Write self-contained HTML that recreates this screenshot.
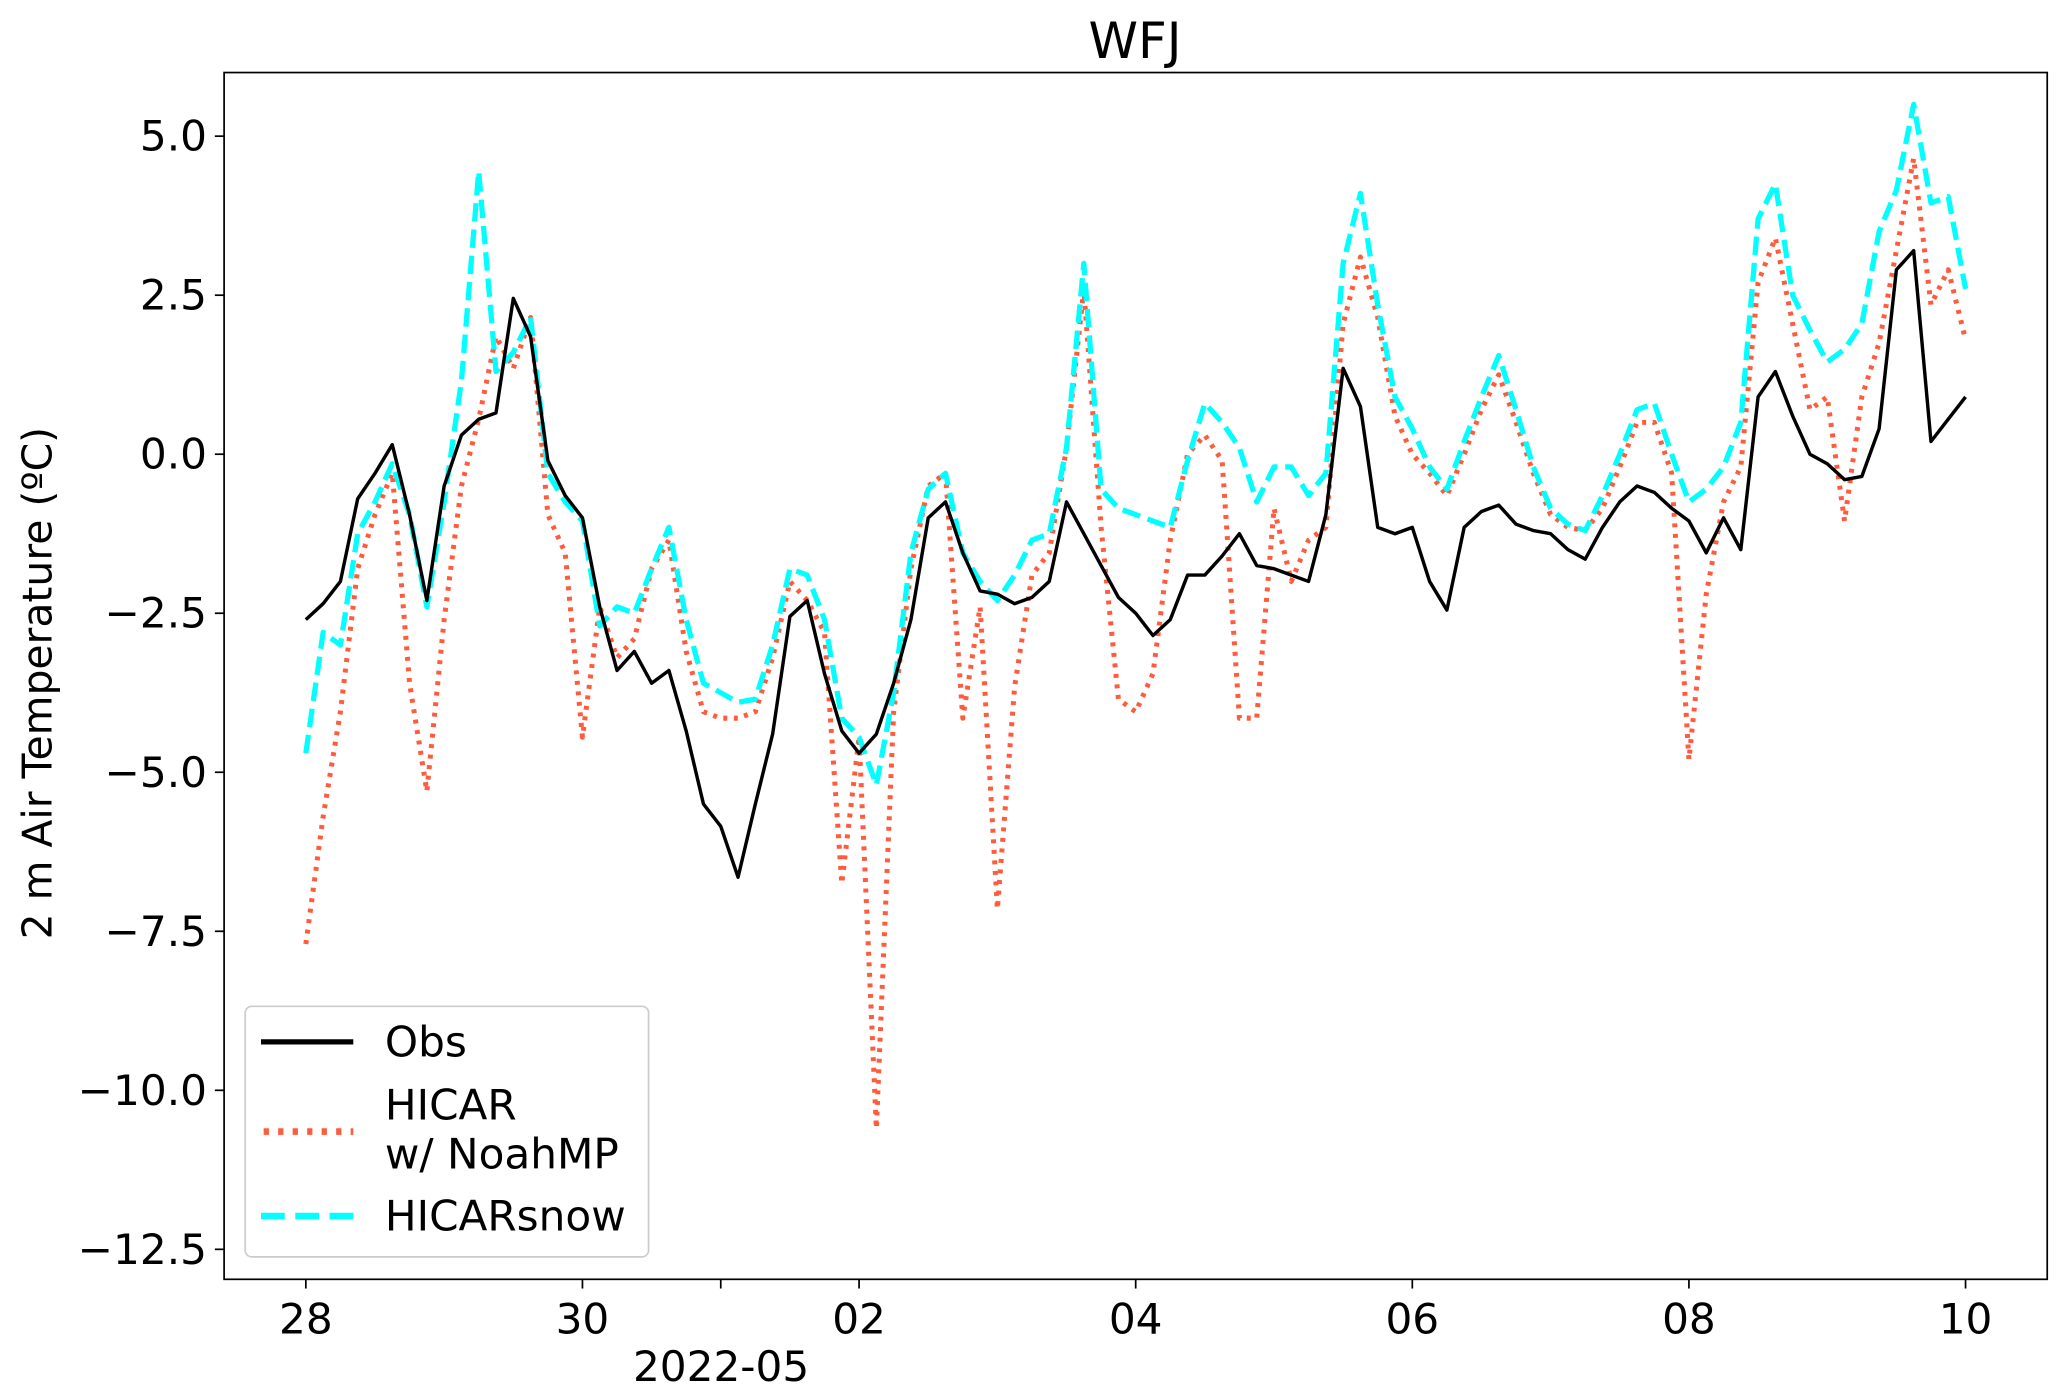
<!DOCTYPE html>
<html><head><meta charset="utf-8"><style>
html,body{margin:0;padding:0;background:#fff}
svg{display:block}
text{font-family:"DejaVu Sans","Liberation Sans",sans-serif;fill:#000}
</style></head><body>
<svg id="chart" width="2067" height="1398" viewBox="0 0 1568 1060" preserveAspectRatio="none" xmlns="http://www.w3.org/2000/svg">
<rect x="0" y="0" width="1568" height="1060" fill="#fff"/>
<text x="861" y="44" font-size="38" text-anchor="middle">WFJ</text>
<g id="marks"></g>
<rect x="170" y="55" width="1383" height="915" fill="none" stroke="#000" stroke-width="1.3"/>
<g id="axes"></g>
<text transform="translate(39,518) rotate(-90)" font-size="31" text-anchor="middle">2 m Air Temperature (ºC)</text>
<text x="547" y="1047" font-size="32" text-anchor="middle">2022-05</text>
<g>
<rect x="186" y="763" width="306" height="190" rx="5" fill="#fff" fill-opacity="0.8" stroke="#ccc" stroke-width="1.3"/>
<line x1="198" y1="790" x2="268" y2="790" stroke="#000" stroke-width="4"/>
<text x="292" y="801" font-size="32">Obs</text>
<line x1="200" y1="858" x2="268" y2="858" stroke="#ff5b3c" stroke-width="5" stroke-dasharray="4,7"/>
<text x="292" y="849" font-size="32">HICAR</text>
<text x="292" y="886" font-size="32">w/ NoahMP</text>
<line x1="198" y1="922" x2="268" y2="922" stroke="#00ffff" stroke-width="5" stroke-dasharray="18,8"/>
<text x="292" y="933" font-size="32">HICARsnow</text>
</g>
</svg>
<script>
const stepDays = 0.125;
const obs = [-2.6,-2.35,-2.0,-0.7,-0.3,0.15,-0.95,-2.3,-0.5,0.3,0.55,0.65,2.45,1.85,-0.1,-0.65,-1.0,-2.4,-3.4,-3.1,-3.6,-3.4,-4.35,-5.5,-5.85,-6.65,-5.5,-4.4,-2.55,-2.3,-3.45,-4.35,-4.7,-4.4,-3.6,-2.6,-1.0,-0.75,-1.55,-2.15,-2.2,-2.35,-2.25,-2.0,-0.75,-1.25,-1.75,-2.25,-2.5,-2.85,-2.6,-1.9,-1.9,-1.6,-1.25,-1.75,-1.8,-1.9,-2.0,-0.95,1.35,0.75,-1.15,-1.25,-1.15,-2.0,-2.45,-1.15,-0.9,-0.8,-1.1,-1.2,-1.25,-1.5,-1.65,-1.15,-0.75,-0.5,-0.6,-0.85,-1.05,-1.55,-1.0,-1.5,0.9,1.3,0.6,0.0,-0.15,-0.4,-0.35,0.4,2.9,3.2,0.2,0.55,0.9];
const hicar = [-7.7,-5.7,-4.05,-1.8,-0.95,-0.3,-3.6,-5.3,-2.6,-0.5,0.55,1.85,1.35,2.15,-0.95,-1.55,-4.45,-2.4,-3.2,-2.9,-1.8,-1.35,-3.1,-4.05,-4.15,-4.15,-4.05,-3.2,-2.0,-2.3,-2.8,-6.75,-4.45,-10.6,-4.05,-1.8,-0.5,-0.3,-4.15,-2.4,-7.15,-3.65,-1.9,-1.55,0.1,2.6,-1.15,-3.85,-4.05,-3.45,-1.35,0.0,0.3,-0.1,-4.15,-4.15,-0.85,-2.0,-1.35,-1.15,2.05,3.1,2.15,0.6,0.0,-0.3,-0.65,0.0,0.7,1.25,0.5,-0.3,-0.95,-1.15,-1.2,-0.85,-0.2,0.5,0.5,-0.3,-4.8,-2.2,-0.75,-0.2,2.7,3.4,2.05,0.7,0.9,-1.05,0.9,1.75,3.2,4.65,2.35,2.9,1.8];
const hicarsnow = [-4.7,-2.8,-3.0,-1.25,-0.75,-0.15,-0.95,-2.4,-0.75,1.15,4.45,1.3,1.6,2.15,-0.3,-0.75,-1.05,-2.7,-2.4,-2.5,-1.8,-1.15,-2.6,-3.6,-3.75,-3.9,-3.85,-3.0,-1.8,-1.9,-2.6,-4.15,-4.45,-5.2,-3.75,-1.55,-0.55,-0.3,-1.55,-2.0,-2.3,-1.9,-1.35,-1.25,0.1,3.0,-0.55,-0.85,-0.95,-1.05,-1.15,-0.1,0.8,0.5,0.1,-0.75,-0.2,-0.2,-0.65,-0.3,3.0,4.1,2.35,0.9,0.4,-0.2,-0.55,0.2,0.9,1.55,0.7,-0.2,-0.85,-1.1,-1.2,-0.65,0.0,0.7,0.8,0.0,-0.75,-0.55,-0.2,0.5,3.7,4.25,2.5,1.95,1.45,1.65,2.05,3.5,4.15,5.5,3.95,4.05,2.6];
const yTicks = [5.0,2.5,0.0,-2.5,-5.0,-7.5,-10.0,-12.5];
const yTickLabels = ["5.0","2.5","0.0","\u22122.5","\u22125.0","\u22127.5","\u221210.0","\u221212.5"];
const xTicks = [0,2,4,6,8,10,12];
const xTickLabels = ["28","30","02","04","06","08","10"];
const xMinorTicks = [3];

const NS = "http://www.w3.org/2000/svg";
function xs(d){ return 232 + d * 104.92; }
function ys(v){ return 344.4 - v * 48.23; }
const marks = document.getElementById('marks');
const axes = document.getElementById('axes');
function mk(tag, attrs, parent){
  const e = document.createElementNS(NS, tag);
  for (const k in attrs) e.setAttribute(k, attrs[k]);
  parent.appendChild(e);
  return e;
}
function pathFor(arr){
  return arr.map((v,i)=>(i?'L':'M')+xs(i*stepDays).toFixed(2)+','+ys(v).toFixed(2)).join(' ');
}
const pRed = mk('path', {d: pathFor(hicar), fill:'none', stroke:'#ff5b3c', 'stroke-width':'3.8', 'stroke-dasharray':'3,5', 'stroke-linejoin':'round'}, marks);


const pCyan = mk('path', {d: pathFor(hicarsnow), fill:'none', stroke:'#00ffff', 'stroke-width':'4', 'stroke-dasharray':'14,6', 'stroke-linejoin':'round'}, marks);


const pObs = mk('path', {d: pathFor(obs), fill:'none', stroke:'#000', 'stroke-width':'2.6', 'stroke-linejoin':'round'}, marks);



yTicks.forEach((v,i)=>{
  const y = ys(v);
  const t = mk('line', {x1:163, x2:170, y1:y, y2:y, stroke:'#000', 'stroke-width':'1.3'}, axes);
  
  
  const l = mk('text', {x:157, y:y+11, 'font-size':'32', 'text-anchor':'end'}, axes);
  l.textContent = yTickLabels[i];
  
  
});
xTicks.forEach((d,i)=>{
  const x = xs(d);
  const t = mk('line', {x1:x, x2:x, y1:970, y2:977, stroke:'#000', 'stroke-width':'1.3'}, axes);
  
  
  const l = mk('text', {x:x, y:1011, 'font-size':'32', 'text-anchor':'middle'}, axes);
  l.textContent = xTickLabels[i];
  
  
});
xMinorTicks.forEach(d=>{
  const x = xs(d);
  const t = mk('line', {x1:x, x2:x, y1:970, y2:977, stroke:'#000', 'stroke-width':'1.3'}, axes);
  
  
});
</script>
</body></html>
